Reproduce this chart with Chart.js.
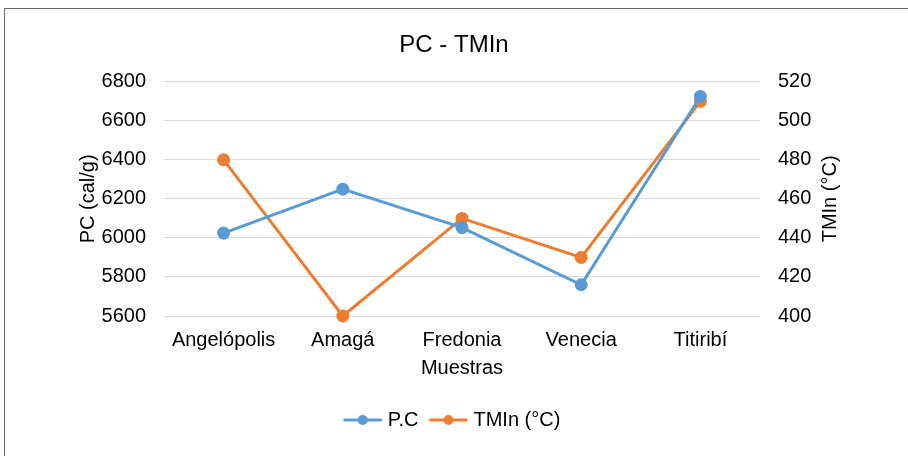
<!DOCTYPE html>
<html>
<head>
<meta charset="utf-8">
<script src="https://cdn.jsdelivr.net/npm/chart.js@4"></script>
<style>
  html, body { margin: 0; padding: 0; background: #fff; }
  #wrap { position: relative; width: 908px; height: 456px; overflow: hidden; }
  #frame { position: absolute; left: 4px; top: 8px; width: 1000px; height: 1000px;
           border-left: 1px solid #6b6b6b; border-top: 1px solid #6b6b6b; }
  canvas { position: absolute; left: 0; top: 0; }
</style>
</head>
<body>
<div id="wrap">
  <div id="frame"></div>
  <canvas id="chart" width="908" height="456"></canvas>
</div>
<script>
const categories = ['Angelópolis', 'Amagá', 'Fredonia', 'Venecia', 'Titiribí']
const pcValues = [6025, 6250, 6053, 5760, 6725]
const tminValues = [480, 400, 450, 430, 510]
const pcTicks = [5600, 5800, 6000, 6200, 6400, 6600, 6800]
const tminTicks = [400, 420, 440, 460, 480, 500, 520]
const rightTitle = 'TMIn (°C)'

const BLUE = '#5b9bd5'
const ORANGE = '#ed7d31'
const FONT = "'Liberation Sans', Arial, sans-serif"

// legend icon: short line with a dot in the middle, like the office legend
function legendIcon(color) {
  const c = document.createElement('canvas')
  c.width = 40
  c.height = 12
  const g = c.getContext('2d')
  g.strokeStyle = color
  g.lineWidth = 3
  g.lineCap = 'round'
  g.beginPath()
  g.moveTo(2, 6)
  g.lineTo(38, 6)
  g.stroke()
  g.fillStyle = color
  g.beginPath()
  g.arc(20, 6, 5, 0, Math.PI * 2)
  g.fill()
  return c
}
const icons = [legendIcon(BLUE), legendIcon(ORANGE)]

// chart.js turns right-hand titles the other way, so draw this one reading upwards
const rightTitlePlugin = {
  id: 'rightTitle',
  afterDraw(chart) {
    const s = chart.scales.y1
    const ctx = chart.ctx
    ctx.save()
    ctx.translate(830, (s.top + s.bottom) / 2)
    ctx.rotate(-Math.PI / 2)
    ctx.font = '20px ' + FONT
    ctx.fillStyle = '#000'
    ctx.textAlign = 'center'
    ctx.textBaseline = 'middle'
    ctx.fillText(rightTitle, 0, 0)
    ctx.restore()
  }
}

Chart.defaults.font.family = FONT
Chart.defaults.color = '#000'

const plain = v => String(v)

new Chart(document.getElementById('chart'), {
  type: 'line',
  data: {
    labels: categories,
    datasets: [
      {
        label: 'P.C',
        data: pcValues,
        yAxisID: 'y',
        borderColor: BLUE,
        backgroundColor: BLUE,
        borderWidth: 3,
        pointRadius: 5,
        pointHoverRadius: 5,
        tension: 0,
        clip: false
      },
      {
        label: rightTitle,
        data: tminValues,
        yAxisID: 'y1',
        borderColor: ORANGE,
        backgroundColor: ORANGE,
        borderWidth: 3,
        pointRadius: 5,
        pointHoverRadius: 5,
        tension: 0,
        clip: false
      }
    ]
  },
  plugins: [rightTitlePlugin],
  options: {
    responsive: false,
    animation: false,
    layout: { padding: { left: 0, right: 0, top: 0, bottom: 16 } },
    plugins: {
      title: {
        display: true,
        text: 'PC - TMIn',
        font: { size: 24, weight: 'normal' },
        color: '#000',
        padding: { top: 31, bottom: 22 }
      },
      legend: {
        position: 'bottom',
        labels: {
          usePointStyle: true,
          pointStyleWidth: 30,
          padding: 15,
          font: { size: 20 },
          color: '#000',
          generateLabels: chart =>
            Chart.defaults.plugins.legend.labels.generateLabels(chart).map((l, i) => ({ ...l, pointStyle: icons[i] }))
        }
      },
      tooltip: { enabled: false }
    },
    scales: {
      x: {
        offset: true,
        grid: { display: false, drawTicks: false },
        border: { display: false },
        ticks: { font: { size: 20 }, color: '#000', padding: 12, maxRotation: 0 },
        title: { display: true, text: 'Muestras', font: { size: 20 }, color: '#000', padding: { top: 0, bottom: 15 } },
        afterFit: s => { s.height = 79 }
      },
      y: {
        position: 'left',
        min: pcTicks[0],
        max: pcTicks[pcTicks.length - 1],
        afterBuildTicks: s => { s.ticks = pcTicks.map(v => ({ value: v })) },
        grid: { color: '#d9d9d9', lineWidth: 1, drawTicks: false },
        border: { display: false },
        ticks: { font: { size: 20 }, color: '#000', padding: 18, callback: plain },
        title: { display: true, text: 'PC (cal/g)', font: { size: 20 }, color: '#000', padding: { top: 76, bottom: 0 } },
        afterFit: s => { s.width = 164 }
      },
      y1: {
        position: 'right',
        min: tminTicks[0],
        max: tminTicks[tminTicks.length - 1],
        afterBuildTicks: s => { s.ticks = tminTicks.map(v => ({ value: v })) },
        grid: { display: false, drawTicks: false },
        border: { display: false },
        ticks: { font: { size: 20 }, color: '#000', padding: 18, callback: plain },
        title: { display: false },
        afterFit: s => { s.width = 148 }
      }
    }
  }
})
</script>
</body>
</html>
